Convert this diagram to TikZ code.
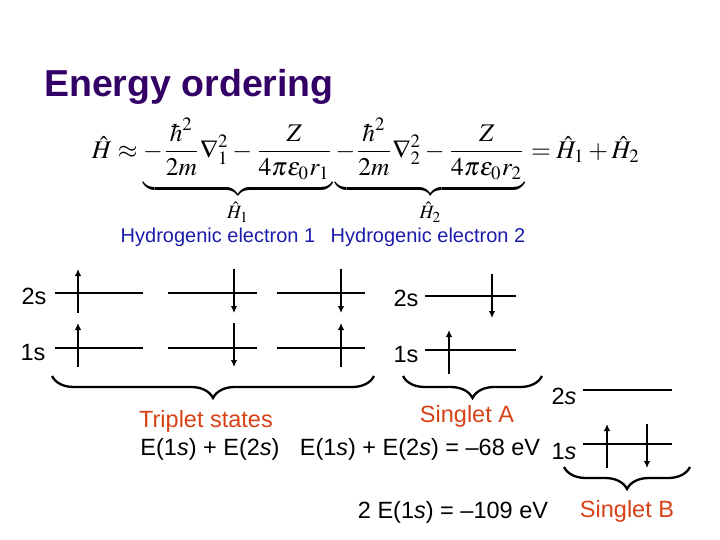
\documentclass[tikz,border=0pt]{standalone}
\usepackage{mathptmx}
\usepackage[no-math]{fontspec}
\setmainfont{Liberation Sans}
\usepackage{graphicx}
\usetikzlibrary{arrows.meta,decorations.pathreplacing}
\definecolor{titlepurple}{RGB}{51,0,102}
\definecolor{hydroblue}{RGB}{28,28,170}
\definecolor{statered}{RGB}{214,66,22}
\begin{document}
\begin{tikzpicture}[x=1pt,y=-1pt,>=latex,
  lvl/.style={line width=2.5pt},
  spin/.style={line width=2.4pt,-{Latex[length=7pt,width=6.5pt]}},
  bracepath/.style={line width=2.3pt,decorate,decoration={brace,amplitude=22pt}},
  txt/.style={inner sep=0pt,font=\fontsize{23.5}{28}\selectfont},
  hydro/.style={inner sep=0pt,text=hydroblue,font=\fontsize{20}{24}\selectfont},
  statelab/.style={txt,text=statered}]
  \useasboundingbox (0,0) rectangle (720,540);
  % title and hamiltonian
  \node[anchor=west,inner sep=0pt,text=titlepurple,font=\bfseries\fontsize{37.5}{44}\selectfont] (title) at (44,87) {Energy ordering};
  \node[anchor=north,inner sep=0pt] (hamilt) at (366,118) {\resizebox{548pt}{!}{$\hat H \approx
    \underbrace{-\frac{\hbar^2}{2m}\nabla_1^2-\frac{Z}{4\pi\varepsilon_0 r_1}}_{\hat H_1}
    \underbrace{-\frac{\hbar^2}{2m}\nabla_2^2-\frac{Z}{4\pi\varepsilon_0 r_2}}_{\hat H_2}
    = \hat H_1+\hat H_2$}};
  \node[hydro] (hydro1) at (218,237) {Hydrogenic electron 1};
  \node[hydro] (hydro2) at (428,237) {Hydrogenic electron 2};
  % levels
  \foreach \xa/\xb/\yy in {55/143/293,168/257/293,277/365/293,55/143/348,168/257/348,277/365/348,
      425/516/296,425/516/350,583/672/390,583/672/444}
    \draw[lvl] (\xa,\yy) -- (\xb,\yy);
  % spins up and down
  \foreach \xx/\yy in {78/291,78/345,341/345,449/352,607/446}
    \draw[spin] (\xx,\yy+22) -- (\xx,\yy-22);
  \foreach \xx/\yy in {234/291,341/291,234/345,492/296,647/446}
    \draw[spin] (\xx,\yy-22) -- (\xx,\yy+22);
  % level labels
  \node[txt] (trip2s) at (34,296) {2s};
  \node[txt] (trip1s) at (33,353) {1s};
  \node[txt] (singa2s) at (406,298) {2s};
  \node[txt] (singa1s) at (406,355) {1s};
  \node[txt] (singb2s) at (564,396) {2\textit{s}};
  \node[txt] (singb1s) at (564,452) {1\textit{s}};
  % braces
  \draw[bracepath] (374,376) -- (52,376);
  \draw[bracepath] (542,376) -- (403,376);
  \draw[bracepath] (690,467) -- (564,467);
  % state names and energies
  \node[statelab] (triplet) at (206,421) {Triplet states};
  \node[statelab] (singleta) at (467,416) {Singlet A};
  \node[statelab] (singletb) at (627,511) {Singlet B};
  \node[txt] (etriplet) at (210,449) {E(1\textit{s}) + E(2\textit{s})};
  \node[txt] (esingleta) at (420,449) {E(1\textit{s}) + E(2\textit{s}) = –68 eV};
  \node[txt] (esingletb) at (453,512) {2 E(1\textit{s}) = –109 eV};
\end{tikzpicture}
\end{document}
